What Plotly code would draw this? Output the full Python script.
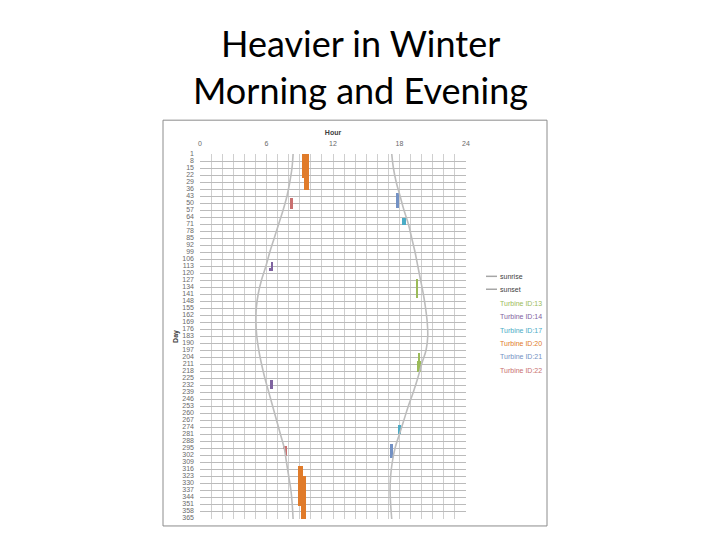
import plotly.graph_objects as go

# ---------------- data ----------------
sun_days = [1, 15, 29, 43, 57, 71, 85, 99, 113, 127, 141, 155, 169, 183,
            197, 211, 225, 239, 253, 267, 281, 295, 309, 323, 337, 351, 366]
sunrise = [8.40, 8.30, 8.10, 7.85, 7.50, 7.10, 6.70, 6.30, 5.95, 5.55, 5.25, 5.08, 5.05, 5.12,
           5.30, 5.55, 5.85, 6.20, 6.55, 6.90, 7.25, 7.60, 7.80, 8.00, 8.20, 8.32, 8.40]
sunset = [17.30, 17.45, 17.70, 18.05, 18.40, 18.80, 19.10, 19.40, 19.65, 19.90, 20.15, 20.35, 20.50, 20.55,
          20.40, 20.00, 19.65, 19.25, 18.80, 18.40, 18.00, 17.60, 17.35, 17.20, 17.15, 17.20, 17.30]

# turbine activity blocks: first day, last day, start hour, end hour
t13_day_from = [126, 200, 208]
t13_day_to = [145, 208, 219]
t13_hour_from = [19.50, 19.68, 19.55]
t13_hour_to = [19.70, 19.80, 19.95]

t14_day_from = [109, 115, 227]
t14_day_to = [118, 118, 236]
t14_hour_from = [6.40, 6.20, 6.32]
t14_hour_to = [6.58, 6.45, 6.56]

t17_day_from = [65, 272]
t17_day_to = [72, 281]
t17_hour_from = [18.20, 17.90]
t17_hour_to = [18.55, 18.12]

t20_day_from = [1, 25, 313, 323]
t20_day_to = [25, 37, 353, 366]
t20_hour_from = [9.20, 9.35, 8.88, 9.12]
t20_hour_to = [9.80, 9.80, 9.28, 9.57]

t21_day_from = [40, 291]
t21_day_to = [55, 305]
t21_hour_from = [17.70, 17.18]
t21_hour_to = [17.95, 17.45]

t22_day_from = [45, 293, 293]
t22_day_to = [56, 303, 296]
t22_hour_from = [8.12, 7.65, 7.48]
t22_hour_to = [8.40, 7.85, 7.72]

turbine_names = ["Turbine ID:13", "Turbine ID:14", "Turbine ID:17",
                 "Turbine ID:20", "Turbine ID:21", "Turbine ID:22"]
turbine_colors = ["#9BBB59", "#7F63A0", "#4BACC6", "#E07B2A", "#7391C4", "#C97070"]

day_ticks = list(range(1, 366, 7))
hour_ticks = [0, 6, 12, 18, 24]

turbines = [
    (t13_day_from, t13_day_to, t13_hour_from, t13_hour_to),
    (t14_day_from, t14_day_to, t14_hour_from, t14_hour_to),
    (t17_day_from, t17_day_to, t17_hour_from, t17_hour_to),
    (t20_day_from, t20_day_to, t20_hour_from, t20_hour_to),
    (t21_day_from, t21_day_to, t21_hour_from, t21_hour_to),
    (t22_day_from, t22_day_to, t22_hour_from, t22_hour_to),
]

# ---------------- figure ----------------
OFF = 8  # page body margin
W, H = 720 - 2 * OFF, 540 - 2 * OFF
L, R, T, B = 200 - OFF, 466 - OFF, 154 - OFF, 521 - OFF


def px(x):
    return (x - OFF - L) / (R - L)


def py(y):
    return (B - (y - OFF)) / (B - T)


fig = go.Figure()

fig.add_trace(go.Scatter(x=sunrise, y=sun_days, mode="lines", name="sunrise",
                         line=dict(color="#BDBDBD", width=1.6, shape="spline"),
                         showlegend=False))
fig.add_trace(go.Scatter(x=sunset, y=sun_days, mode="lines", name="sunset",
                         line=dict(color="#BDBDBD", width=1.6, shape="spline"),
                         showlegend=False))

for (dfrom, dto, hfrom, hto), name, col in zip(turbines, turbine_names, turbine_colors):
    fig.add_trace(go.Bar(
        orientation="h",
        y=[(a + b) / 2 for a, b in zip(dfrom, dto)],
        width=[b - a for a, b in zip(dfrom, dto)],
        base=hfrom,
        x=[b - a for a, b in zip(hfrom, hto)],
        marker=dict(color=col, line=dict(width=0)),
        name=name, showlegend=False,
    ))

tick_font = dict(family="Liberation Sans", size=7, color="#6A6A6A")

fig.update_layout(
    width=W, height=H,
    margin=dict(l=L, r=W - R, t=T, b=H - B),
    paper_bgcolor="white", plot_bgcolor="white",
    barmode="overlay", bargap=0,
    xaxis=dict(range=[0, 24], side="top", tickvals=hour_ticks, ticks="",
               ticklabelstandoff=6,
               showgrid=True, gridcolor="#CFCFCF", gridwidth=1,
               minor=dict(dtick=1, showgrid=True, gridcolor="#CFCFCF", gridwidth=1),
               zeroline=False, showline=False, tickfont=tick_font,
               title=dict(text="<b>Hour</b>", font=dict(family="Liberation Sans", size=7, color="#404040"),
                          standoff=3)),
    yaxis=dict(range=[366, 1], tickvals=day_ticks, ticks="",
               ticklabelstandoff=5,
               showgrid=True, gridcolor="#BBBBBB", gridwidth=1,
               zeroline=False, showline=False, tickfont=tick_font,
               title=dict(text="<b>Day</b>", font=dict(family="Liberation Sans", size=7, color="#404040"),
                          standoff=2)),
    showlegend=False,
)

# chart frame
fig.add_shape(type="rect", xref="paper", yref="paper",
              x0=px(163), x1=px(547), y0=py(528), y1=py(120),
              line=dict(color="#8C8C8C", width=1), fillcolor="rgba(0,0,0,0)", layer="below")

# slide title
fig.add_annotation(text="Heavier in Winter", xref="paper", yref="paper",
                   x=px(360), y=py(42), xanchor="center", yanchor="middle", showarrow=False,
                   font=dict(family="Lato", size=36, color="black"))
fig.add_annotation(text="Morning and Evening", xref="paper", yref="paper",
                   x=px(360), y=py(90), xanchor="center", yanchor="middle", showarrow=False,
                   font=dict(family="Lato", size=36, color="black"))

# legend
leg_names = ["sunrise", "sunset"] + turbine_names
leg_colors = ["#404040", "#404040"] + turbine_colors
leg_y = [277, 290, 304, 317, 331, 345, 358, 372]
for i, (nm, c, yy) in enumerate(zip(leg_names, leg_colors, leg_y)):
    fig.add_annotation(text=nm, xref="paper", yref="paper", x=px(498), y=py(yy),
                       xanchor="left", yanchor="middle", showarrow=False,
                       font=dict(family="Liberation Sans", size=7, color=c))
    if i < 2:
        fig.add_shape(type="line", xref="paper", yref="paper",
                      x0=px(486), x1=px(497), y0=py(yy), y1=py(yy),
                      line=dict(color="#A6A6A6", width=1.5))

fig.write_html("out.html")
